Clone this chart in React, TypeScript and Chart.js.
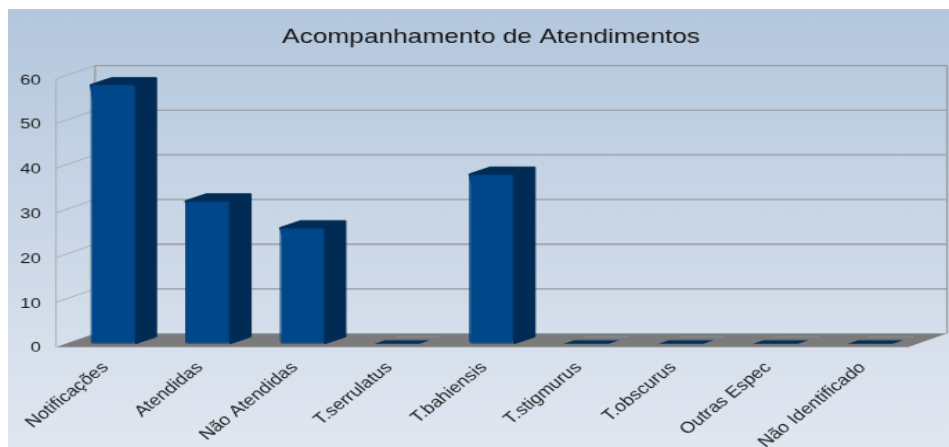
import React, { useEffect, useRef } from "react";
import { Chart, registerables } from "chart.js";

Chart.register(...registerables);

const chartTitle = "Acompanhamento de Atendimentos";
const categories = [
  "Notificações",
  "Atendidas",
  "Não Atendidas",
  "T.serrulatus",
  "T.bahiensis",
  "T.stigmurus",
  "T.obscurus",
  "Outras Espec",
  "Não Identificado",
];
const atendimentos = [58, 32, 26, 0, 38, 0, 0, 0, 0];
const yMin = 0;
const yMax = 60;
const yStep = 10;

const CW = 680;
const CH = 400;
const PAGE_W = 941;
const PAGE_H = 438;
const SX = PAGE_W / CW;
const SY = PAGE_H / CH;
const px = (v: number) => v / SX;
const py = (v: number) => v / SY;

const WALL_DX = px(39);
const WALL_DY = py(13.5);
const SIDE_DX = px(21);
const SIDE_DY = py(7);
const FRONT_DX = px(9.5);
const FRONT_DY = py(3.25);

const scene3d = {
  id: "scene3d",
  beforeDraw(chart: any) {
    const { ctx, width, height } = chart;
    const g = ctx.createLinearGradient(0, 0, 0, height);
    g.addColorStop(0, "#b4c7dd");
    g.addColorStop(1, "#e1e7f1");
    ctx.save();
    ctx.fillStyle = g;
    ctx.fillRect(0, 0, width, height);
    ctx.restore();
  },
  afterLayout(chart: any) {
    const shift = px(491 - 8) - (chart.chartArea.left + chart.chartArea.right) / 2;
    if (chart.titleBlock) {
      chart.titleBlock.left = chart.chartArea.left + shift;
      chart.titleBlock.right = chart.chartArea.right + shift;
    }
  },
  beforeDatasetsDraw(chart: any) {
    const { ctx, chartArea: a, scales } = chart;
    const y = scales.y;
    ctx.save();
    // floor
    ctx.fillStyle = "#7b7b7b";
    ctx.beginPath();
    ctx.moveTo(a.left, a.bottom);
    ctx.lineTo(a.right, a.bottom);
    ctx.lineTo(a.right + WALL_DX, a.bottom - WALL_DY);
    ctx.lineTo(a.left + WALL_DX, a.bottom - WALL_DY);
    ctx.closePath();
    ctx.fill();
    // grid on the walls
    for (const t of y.ticks) {
      const p = y.getPixelForValue(t.value);
      if (t.value !== yMin) {
        ctx.strokeStyle = "#9a9c9f";
        ctx.lineWidth = 1.3;
        ctx.beginPath();
        ctx.moveTo(a.left + WALL_DX, p - WALL_DY);
        ctx.lineTo(a.right + WALL_DX, p - WALL_DY);
        ctx.stroke();
        ctx.strokeStyle = "#a9abae";
        ctx.lineWidth = 0.9;
        ctx.beginPath();
        ctx.moveTo(a.left, p);
        ctx.lineTo(a.left + WALL_DX, p - WALL_DY);
        ctx.stroke();
      }
    }
    ctx.strokeStyle = "#9a9c9f";
    ctx.lineWidth = 1.3;
    ctx.beginPath();
    ctx.moveTo(a.left + WALL_DX, a.top - WALL_DY);
    ctx.lineTo(a.left + WALL_DX, a.bottom - WALL_DY);
    ctx.moveTo(a.right + WALL_DX, a.top - WALL_DY);
    ctx.lineTo(a.right + WALL_DX, a.bottom - WALL_DY);
    ctx.stroke();
    ctx.strokeStyle = "#a9abae";
    ctx.lineWidth = 0.9;
    ctx.beginPath();
    ctx.moveTo(a.left, a.top);
    ctx.lineTo(a.left, a.bottom);
    ctx.stroke();
    ctx.restore();
  },
  beforeDatasetDraw(chart: any, args: any) {
    const { ctx } = chart;
    ctx.save();
    ctx.translate(FRONT_DX, -FRONT_DY);
    for (const bar of args.meta.data) {
      const { x, y, base, width } = bar.getProps(["x", "y", "base", "width"], true);
      const x0 = x - width / 2;
      const x1 = x + width / 2;
      const flat = Math.abs(base - y) < 0.5;
      if (flat) {
        ctx.fillStyle = "#012f5e";
        ctx.beginPath();
        ctx.moveTo(x0, base);
        ctx.lineTo(x0 + SIDE_DX / 2, base - SIDE_DY / 2);
        ctx.lineTo(x1 + SIDE_DX / 2, base - SIDE_DY / 2);
        ctx.lineTo(x1, base);
        ctx.closePath();
        ctx.fill();
        ctx.strokeStyle = "#8b8f96";
        ctx.lineWidth = 1;
        ctx.beginPath();
        ctx.moveTo(x0 + SIDE_DX, base - SIDE_DY);
        ctx.lineTo(x1 + SIDE_DX, base - SIDE_DY);
        ctx.stroke();
        continue;
      }
      ctx.fillStyle = "#002b55";
      ctx.strokeStyle = "#002b55";
      ctx.lineWidth = 1;
      ctx.lineJoin = "round";
      ctx.beginPath();
      ctx.moveTo(x0, y);
      ctx.lineTo(x0 + SIDE_DX, y - SIDE_DY);
      ctx.lineTo(x1 + SIDE_DX, y - SIDE_DY);
      ctx.lineTo(x1 + SIDE_DX, base - SIDE_DY);
      ctx.lineTo(x1, base);
      ctx.closePath();
      ctx.fill();
      ctx.stroke();
    }
  },
  afterDatasetDraw(chart: any) {
    chart.ctx.restore();
  },
};

export default function App() {
  const ref = useRef<HTMLCanvasElement | null>(null);
  useEffect(() => {
    if (!ref.current) return;
    const chart = new Chart(ref.current, {
      type: "bar",
      data: {
        labels: categories,
        datasets: [
          {
            label: "Atendimentos",
            data: atendimentos,
            backgroundColor: "#004789",
            borderColor: "#013e78",
            borderWidth: (c: any) => (c.raw === 0 ? 0 : 1),
            borderSkipped: false,
            borderRadius: 2,
            categoryPercentage: 1,
            barPercentage: 0.475,
            clip: false,
          } as any,
        ],
      },
      options: {
        responsive: false,
        animation: false,
        devicePixelRatio: 1,
        layout: { padding: { left: 0, right: CW - px(908 - 8), top: 0, bottom: 0 } },
        plugins: {
          legend: { display: false },
          tooltip: { enabled: false },
          title: {
            display: true,
            text: chartTitle,
            fullSize: false,
            color: "#111111",
            font: { family: "'Liberation Sans'", size: 19, weight: "normal" },
            padding: { top: py(36.8 - 9) - 11.4, bottom: py(79 - 9) - py(36.8 - 9) - 11.4 },
          },
        },
        scales: {
          x: {
            grid: { display: false, drawTicks: false },
            border: { display: false },
            afterFit: (s: any) => {
              s.height = CH - py(347 - 9);
              s.paddingLeft = 0;
              s.paddingRight = 0;
            },
            ticks: {
              autoSkip: false,
              minRotation: 45,
              maxRotation: 45,
              padding: 10.5,
              labelOffset: 1.5,
              color: "#1a1a1a",
              font: { family: "'Liberation Sans'", size: 14.3 },
            },
          },
          y: {
            min: yMin,
            max: yMax,
            grid: { display: false, drawTicks: false },
            border: { display: false },
            afterFit: (s: any) => {
              s.width = px(56 - 8);
            },
            ticks: {
              stepSize: yStep,
              padding: 11,
              labelOffset: 1,
              color: "#1a1a1a",
              font: { family: "'Liberation Sans'", size: 13.5 },
            },
          },
        },
      } as any,
      plugins: [scene3d as any],
    });
    return () => chart.destroy();
  }, []);

  return (
    <div
      style={{
        position: "absolute",
        left: 8,
        top: 9,
        width: PAGE_W,
        height: PAGE_H,
        overflow: "hidden",
      }}
    >
      <canvas
        ref={ref}
        width={CW}
        height={CH}
        style={{ transform: `scale(${SX}, ${SY})`, transformOrigin: "0 0" }}
      />
    </div>
  );
}
